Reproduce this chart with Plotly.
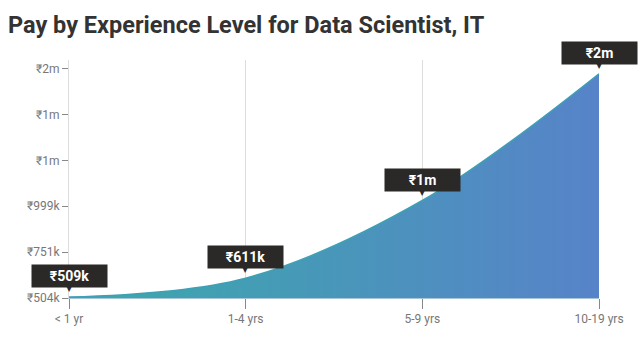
import plotly.graph_objects as go

categories = ["< 1 yr", "1-4 yrs", "5-9 yrs", "10-19 yrs"]
values = [509000, 611000, 1030000, 1714000]
value_labels = ["₹509k", "₹611k", "₹1m", "₹2m"]
tick_vals = [504000, 751400, 998800, 1246200, 1493600, 1741000]
tick_text = ["₹504k", "₹751k", "₹999k", "₹1m", "₹1m", "₹2m"]

fig = go.Figure()
fig.add_trace(go.Scatter(
    x=categories, y=values, mode="lines",
    line=dict(color="#3f9fb4", width=1.5, shape="spline"),
    fill="tozeroy",
    fillgradient=dict(type="horizontal",
                      colorscale=[[0, "#3aaaaa"], [1, "#5783c9"]]),
    hoverinfo="skip", showlegend=False,
))

annotations = []
for c, v, lab in zip(categories, values, value_labels):
    annotations.append(dict(
        x=c, y=v, xref="x", yref="y", text="<b>%s</b>" % lab,
        showarrow=False, xanchor="center", yanchor="bottom", yshift=9,
        bgcolor="#2b2927", font=dict(color="white", size=14, family="Roboto"),
        width=67, height=14, borderpad=4,
    ))
    annotations.append(dict(
        x=c, y=v, xref="x", yref="y", text="▼",
        showarrow=False, xanchor="center", yanchor="bottom", yshift=2,
        font=dict(color="#2b2927", size=8, family="DejaVu Sans"),
    ))

fig.update_layout(
    width=644, height=343,
    margin=dict(l=69, r=45, t=60, b=45),
    paper_bgcolor="white", plot_bgcolor="white",
    title=dict(text="<b>Pay by Experience Level for Data Scientist, IT</b>",
               x=8 / 644, xref="container", xanchor="left",
               y=1 - 25 / 343, yref="container", yanchor="middle",
               font=dict(family="Roboto", size=23.5, color="#333333")),
    xaxis=dict(range=[0, 3], showgrid=True, gridcolor="#dddddd",
               showline=True, linecolor="#a9c6d8", linewidth=1,
               ticks="outside", ticklen=10, tickcolor="#888888",
               tickfont=dict(family="Roboto", size=12, color="#777777"),
               zeroline=False, fixedrange=True),
    yaxis=dict(range=[504000, 1788000], showgrid=False,
               tickvals=tick_vals, ticktext=tick_text,
               showline=True, linecolor="#dddddd", linewidth=1,
               ticks="outside", ticklen=6, tickcolor="#888888",
               tickfont=dict(family="Roboto", size=12, color="#777777"),
               zeroline=False, fixedrange=True),
    annotations=annotations,
)

fig.write_html("out.html")
